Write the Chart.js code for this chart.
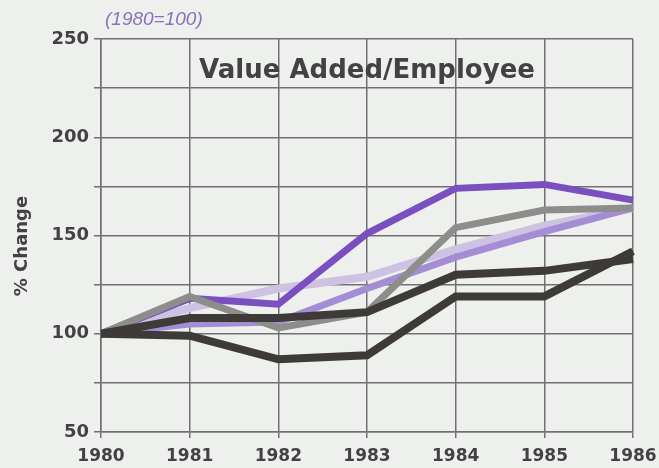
<!DOCTYPE html>
<html>
<head>
<meta charset="utf-8">
<script src="https://cdn.jsdelivr.net/npm/chart.js@4.4.1/dist/chart.umd.min.js"></script>
<style>
    html, body { margin: 0; padding: 0; background: #eef0ee; }
    #wrap { width: 659px; height: 468px; }
</style>
</head>
<body>
<div id="wrap"><canvas id="valueChart"></canvas></div>
<script>
const years = ["1980", "1981", "1982", "1983", "1984", "1985", "1986"];
const purpleLine = [100, 118, 115, 151, 174, 176, 168];
const grayLine = [100, 119, 103, 111, 154, 163, 164];
const lightLavender = [100, 113, 123, 129, 143, 155, 164];
const midLavender = [100, 105, 106, 123, 139, 152, 164];
const darkUpper = [100, 108, 108, 111, 130, 132, 138];
const darkLower = [100, 99, 87, 89, 119, 119, 142];
const yTickLabels = [50, 100, 150, 200, 250];

const textColor = "#424242";
const gridColor = "#707070";
const font = "'DejaVu Sans', sans-serif";

// extra text drawn on the canvas: base note, title inside plot, y axis name
const extraText = {
    id: "extraText",
    afterDraw(chart) {
        const ctx = chart.ctx;
        ctx.save();
        ctx.fillStyle = "#8a72b8";
        ctx.font = "italic 19px 'Liberation Sans', sans-serif";
        ctx.textAlign = "left";
        ctx.textBaseline = "middle";
        ctx.fillText("(1980=100)", 105, 20);

        ctx.fillStyle = textColor;
        ctx.font = "bold 26px " + font;
        ctx.textAlign = "center";
        ctx.fillText("Value Added/Employee", 367, 71);

        ctx.translate(22, 246);
        ctx.rotate(-Math.PI / 2);
        ctx.font = "bold 18px " + font;
        ctx.fillText("% Change", 0, 0);
        ctx.restore();
    }
};

function lineSet(data, color, width) {
    return {
        data: data,
        borderColor: color,
        borderWidth: width,
        pointRadius: 0,
        tension: 0,
        fill: false,
        borderJoinStyle: "miter",
        borderCapStyle: "butt"
    };
}

new Chart(document.getElementById("valueChart").getContext("2d"), {
    type: "line",
    data: {
        labels: years,
        datasets: [
            // first dataset is painted on top
            lineSet(darkLower, "#3d3a38", 8),
            lineSet(darkUpper, "#3d3a38", 8),
            lineSet(grayLine, "#8d8d8b", 7),
            lineSet(purpleLine, "#7a50c0", 7),
            lineSet(midLavender, "#a48dd4", 7),
            lineSet(lightLavender, "#cdc2e2", 8)
        ]
    },
    options: {
        responsive: true,
        maintainAspectRatio: false,
        animation: false,
        layout: { padding: { left: 0, right: 26, top: 39, bottom: 0 } },
        plugins: {
            legend: { display: false },
            tooltip: { enabled: false }
        },
        scales: {
            x: {
                offset: false,
                grid: { color: gridColor, lineWidth: 1.5, tickLength: 6, offset: false },
                border: { color: gridColor, width: 1.5 },
                ticks: {
                    color: textColor,
                    font: { family: font, size: 17, weight: "bold" },
                    padding: 8,
                    maxRotation: 0,
                    autoSkip: false
                },
                afterFit: scale => {
                    scale.height = 36;
                    scale.paddingLeft = 0;
                    scale.paddingRight = 0;
                }
            },
            y: {
                min: 50,
                max: 250,
                grid: { color: gridColor, lineWidth: 1.5, tickLength: 7 },
                border: { color: gridColor, width: 1.5 },
                ticks: {
                    stepSize: 25,
                    color: textColor,
                    font: { family: font, size: 18, weight: "bold" },
                    padding: 5,
                    callback: v => yTickLabels.includes(v) ? String(v) : ""
                },
                afterFit: scale => {
                    scale.width = 101;
                    scale.paddingTop = 0;
                    scale.paddingBottom = 0;
                }
            }
        }
    },
    plugins: [extraText]
});
</script>
</body>
</html>
